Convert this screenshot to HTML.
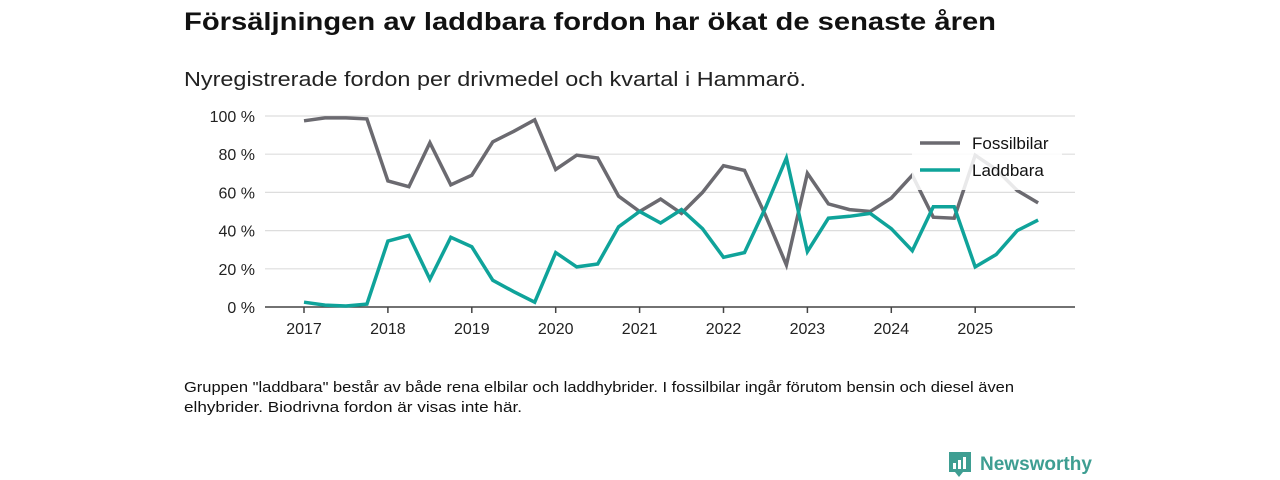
<!DOCTYPE html>
<html><head><meta charset="utf-8"><style>
body{margin:0;background:#fff;}
svg{display:block;font-family:"Liberation Sans",sans-serif;}
</style></head><body>
<svg id="chart" width="1280" height="480">
<text x="184" y="30" font-size="25" font-weight="bold" fill="#111" textLength="812" lengthAdjust="spacingAndGlyphs">Försäljningen av laddbara fordon har ökat de senaste åren</text>
<text x="184" y="86" font-size="20" fill="#222" textLength="622" lengthAdjust="spacingAndGlyphs">Nyregistrerade fordon per drivmedel och kvartal i Hammarö.</text>
<g id="grid"></g>
<g id="series"></g>
<g>
<rect x="912" y="124" width="150" height="66" fill="#fff" fill-opacity="0.85"/>
<g><line x1="920" y1="143" x2="960" y2="143" stroke="#6b6a70" stroke-width="3.5"/><text x="972" y="149" font-size="17" fill="#111">Fossilbilar</text></g>
<g><line x1="920" y1="170" x2="960" y2="170" stroke="#0fa39a" stroke-width="3.5"/><text x="972" y="176" font-size="17" fill="#111">Laddbara</text></g>
</g>
<text x="184" y="392" font-size="14.5" fill="#111" textLength="830" lengthAdjust="spacingAndGlyphs">Gruppen "laddbara" består av både rena elbilar och laddhybrider. I fossilbilar ingår förutom bensin och diesel även</text>
<text x="184" y="412" font-size="14.5" fill="#111" textLength="338" lengthAdjust="spacingAndGlyphs">elhybrider. Biodrivna fordon är visas inte här.</text>
<g>
<path d="M949 452 h22 v20 h-8 l-4 5 l-4 -5 h-6 z" fill="#3e9e92"/>
<rect x="953" y="463" width="3" height="6" fill="#fff"/><rect x="958" y="460" width="3" height="9" fill="#fff"/><rect x="963" y="457" width="3" height="12" fill="#fff"/>
<text x="980" y="470" font-size="19" font-weight="bold" fill="#3e9e92">Newsworthy</text>
</g>
</svg>
<script>
const years = [2017,2018,2019,2020,2021,2022,2023,2024,2025];
const yTicks = [0,20,40,60,80,100];
const fossil = [97.5,99,99,98.5,66,63,86,64,69,86.5,92,98,72,79.5,78,58,50,56.5,49,60,74,71.5,48,22,70,54,51,50,57,69,47,46.5,79.5,72,61,54.5];
const laddbara = [2.5,1,0.5,1.5,34.5,37.5,14.5,36.5,31.5,14,8,2.5,28.5,21,22.5,42,50,44,51,41,26,28.5,52,78,29,46.5,47.5,49,41,29.5,52.5,52.5,21,27.5,40,45.5];
const NS="http://www.w3.org/2000/svg";
const x = t => 304 + (t - 2017) * 83.9;
const y = v => 307 - v * 1.91;
const grid = document.getElementById('grid');
function mk(tag, attrs, parent){const e=document.createElementNS(NS,tag);for(const k in attrs)e.setAttribute(k,attrs[k]);parent.appendChild(e);return e;}
yTicks.forEach(v=>{
  if(v>0){const l=mk('line',{x1:265,x2:1075,y1:y(v),y2:y(v),stroke:'#ddd','stroke-width':1.2},grid);
  
  }
  const t=mk('text',{x:255,y:y(v)+6,'font-size':16,fill:'#222','text-anchor':'end'},grid);
  t.textContent=v+' %';
  
  
});
const ax=mk('line',{x1:265,x2:1075,y1:307,y2:307,stroke:'#444','stroke-width':1.5},grid);


years.forEach(yr=>{
  const tk=mk('line',{x1:x(yr),x2:x(yr),y1:307,y2:313,stroke:'#444','stroke-width':1.5},grid);
  
  
  const t=mk('text',{x:x(yr),y:334,'font-size':16,fill:'#222','text-anchor':'middle'},grid);
  t.textContent=yr;
  
  
});
const ser=document.getElementById('series');
function line(data,color,name){
  const pts=data.map((v,i)=>x(2017+i/4).toFixed(1)+','+y(v).toFixed(1)).join(' ');
  const p=mk('polyline',{points:pts,fill:'none',stroke:color,'stroke-width':3.5,'stroke-linejoin':'miter'},ser);
  
  
}
line(fossil,'#6b6a70','line-fossilbilar');
line(laddbara,'#0fa39a','line-laddbara');
</script>
</body></html>
